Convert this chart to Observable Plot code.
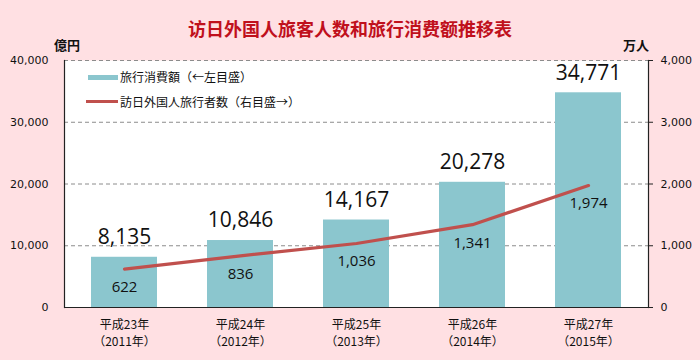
<!DOCTYPE html>
<html>
<head>
<meta charset="utf-8">
<script src="https://cdn.jsdelivr.net/npm/d3@7"></script>
<script src="https://cdn.jsdelivr.net/npm/@observablehq/plot@0.6"></script>
<style>
  html, body { margin: 0; padding: 0; background: #ffe0e3; }
  #wrap { position: relative; width: 700px; height: 360px; overflow: hidden; background: #ffe0e3; }
  #head { position: relative; width: 700px; height: 50px; }
  #title { position: absolute; left: 0; width: 700px; top: 16px; text-align: center;
    font-family: "Noto Sans CJK SC", sans-serif; font-weight: bold; font-size: 18px; color: #c0101c; line-height: 24px; }
  .unit { position: absolute; top: 37px; font-family: "Noto Sans CJK JP", sans-serif; font-weight: bold; font-size: 13px; color: #111; line-height: 16px; }
  .leg { position: absolute; font-family: "Noto Sans CJK JP", sans-serif; font-size: 12px; color: #111; line-height: 16px; white-space: nowrap; }
  .sw { position: absolute; }
  #chart { position: absolute; left: 0; top: 50px; }
</style>
</head>
<body>
<div id="wrap">
  <div id="head">
    <div id="title">访日外国人旅客人数和旅行消费额推移表</div>
    <div class="unit" style="left:54px;">億円</div>
    <div class="unit" style="left:623px;">万人</div>
  </div>
  <div id="chart"></div>
  <div class="sw" style="left:88px; top:75px; width:30px; height:5px; background:#8bc6ce;"></div>
  <div class="leg" style="left:120px; top:69px;">旅行消費額（←左目盛）</div>
  <div class="sw" style="left:86px; top:100px; width:32px; height:3px; background:#c0504d;"></div>
  <div class="leg" style="left:120px; top:94px;">訪日外国人旅行者数（右目盛→）</div>
</div>
<script>
const eraLabels = ["平成23年", "平成24年", "平成25年", "平成26年", "平成27年"];
const yearLabels = ["（2011年）", "（2012年）", "（2013年）", "（2014年）", "（2015年）"];
const spending = [8135, 10846, 14167, 20278, 34771];      // 億円 (left axis)
const visitors = [622, 836, 1036, 1341, 1974];            // 万人 (right axis)
const leftTicks = [0, 10000, 20000, 30000, 40000];
const gridTicks = [10000, 20000, 30000, 40000];
const RATIO = 10; // right axis 0–4,000 maps onto left axis 0–40,000

const data = eraLabels.map((e, i) => ({
  era: e, year: yearLabels[i], spend: spending[i], vis: visitors[i], visScaled: visitors[i] * RATIO
}));
const fmt = d3.format(",");

const chart = Plot.plot({
  width: 700,
  height: 310,
  marginTop: 10,
  marginBottom: 53,
  marginLeft: 64,
  marginRight: 52,
  style: { background: "transparent", fontFamily: "DejaVu Sans, sans-serif", color: "#111" },
  x: { domain: eraLabels, paddingInner: 0.435, paddingOuter: 0.2175, axis: null },
  y: { domain: [0, 40000], axis: null },
  marks: [
    Plot.frame({ fill: "white", stroke: null }),
    Plot.gridY(gridTicks, { stroke: "#8c8c8c", strokeOpacity: 1, strokeDasharray: "4,3", strokeWidth: 1 }),
    Plot.barY(data, { x: "era", y: "spend", fill: "#8bc6ce" }),
    Plot.line(data, { x: "era", y: "visScaled", stroke: "#c0504d", strokeWidth: 3.2, curve: "linear" }),
    Plot.text(data, { x: "era", y: "spend", text: d => fmt(d.spend), dy: -20, fontSize: 21, fontFamily: "Open Sans", fill: "#111" }),
    Plot.text(data, { x: "era", y: "visScaled", text: d => fmt(d.vis), dy: 18, fontSize: 15, fontFamily: "Open Sans", fill: "#111" }),
    Plot.ruleY([0], { stroke: "#222", strokeWidth: 1.2 }),
    Plot.frame({ anchor: "left", stroke: "#222", strokeWidth: 1.2 }),
    Plot.frame({ anchor: "right", stroke: "#222", strokeWidth: 1.2 }),
    Plot.axisY({ anchor: "left", ticks: leftTicks, tickFormat: fmt, tickSize: 0, tickPadding: 16, label: null, fontSize: 11, stroke: "#222" }),
    Plot.axisY({ anchor: "right", ticks: leftTicks, tickFormat: d => fmt(d / RATIO), tickSize: 4, tickPadding: 8, label: null, fontSize: 11, stroke: "#222" }),
    Plot.text(data, { x: "era", frameAnchor: "bottom", text: "era", dy: 21, fontSize: 12, fontFamily: "Noto Sans CJK JP", fill: "#111" }),
    Plot.text(data, { x: "era", frameAnchor: "bottom", text: "year", dy: 38, fontSize: 12, fontFamily: "Noto Sans CJK JP", fill: "#111" })
  ]
});
document.getElementById("chart").appendChild(chart);
</script>
</body>
</html>
